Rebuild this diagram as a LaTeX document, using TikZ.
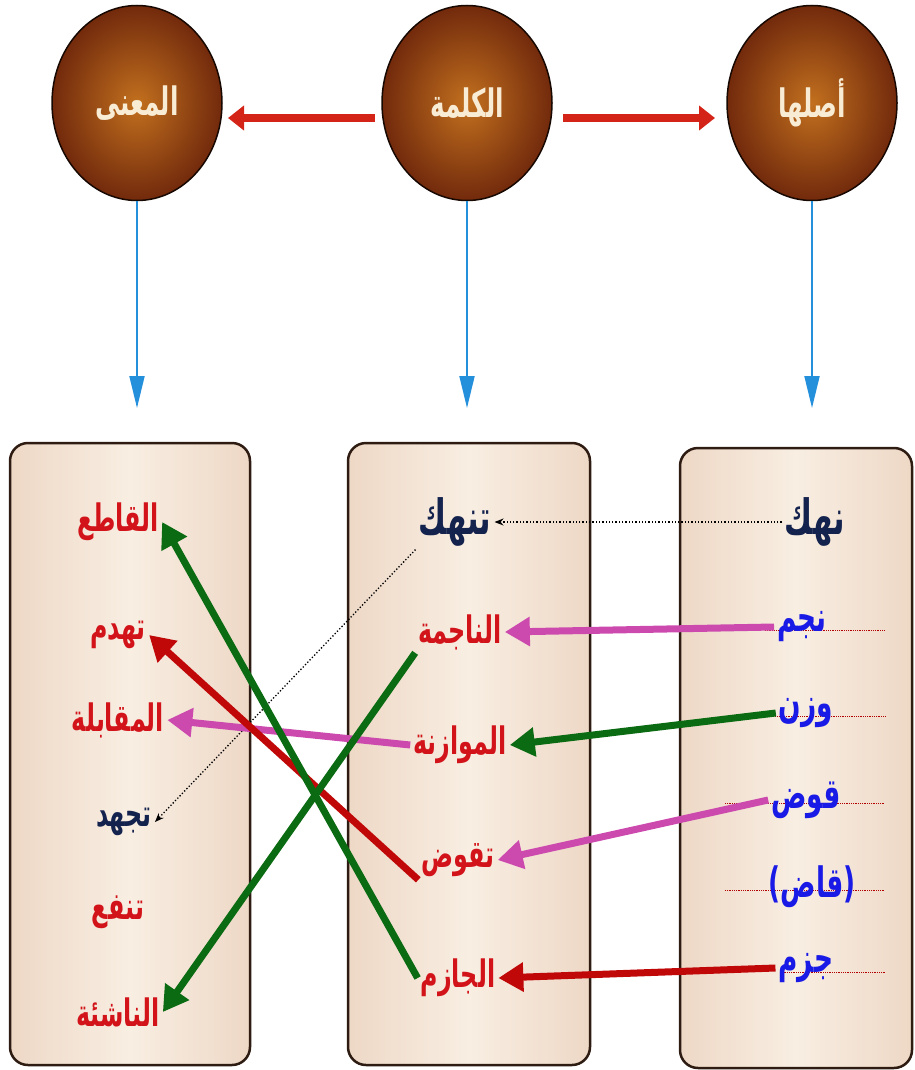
\documentclass[tikz,border=0pt]{standalone}
\usepackage{fontspec}
\usetikzlibrary{positioning}
\usetikzlibrary{arrows.meta}
\usetikzlibrary{shapes.geometric}
\TeXXeTstate=1
\newfontfamily\arabicfont[Script=Arabic]{DejaVu Sans}
\newcommand{\arw}[1]{\scalebox{0.85}[1.35]{\arabicfont\beginR #1\endR}}
\definecolor{ballin}{HTML}{C2701E}
\definecolor{ballout}{HTML}{722A0C}
\definecolor{balltext}{HTML}{F8ECD4}
\definecolor{boxedge}{HTML}{2E1C12}
\definecolor{boxside}{HTML}{EED8C6}
\definecolor{boxmid}{HTML}{F8EEE2}
\definecolor{wred}{HTML}{D2141A}
\definecolor{wnavy}{HTML}{14224E}
\definecolor{wblue}{HTML}{1A1AE6}
\definecolor{mpink}{HTML}{CC4AAE}
\definecolor{mgreen}{HTML}{0A6B12}
\definecolor{mred}{HTML}{C00808}
\definecolor{topred}{HTML}{D42418}
\definecolor{skyblue}{HTML}{2490DC}
\tikzset{ball/.style = {ellipse, draw=black!80!ballout, line width=1.5pt,
                        inner color=ballin, outer color=ballout,
                        minimum width=170pt, minimum height=195pt,
                        text=balltext, font=\fontsize{29}{32}\selectfont\bfseries}}
\tikzset{wbox/.style = {draw=boxedge, line width=2.5pt, rounded corners=18pt,
                        left color=boxside, right color=boxside, middle color=boxmid}}
\tikzset{word/.style = {inner sep=3pt, font=\fontsize{28}{32}\selectfont\bfseries}}
\tikzset{rword/.style = {word, text=wred}}
\tikzset{nword/.style = {word, text=wnavy}}
\tikzset{bword/.style = {word, text=wblue, font=\fontsize{31}{34}\selectfont\bfseries}}
\tikzset{bigword/.style = {font=\fontsize{36}{40}\selectfont\bfseries}}
\tikzset{toparr/.style = {draw=topred, line width=8pt,
                          -{Triangle[length=16pt,width=24pt]}}}
\tikzset{downarr/.style = {draw=skyblue, line width=2pt,
                           -{Triangle[length=32pt,width=15pt]}}}
\tikzset{link/.style = {line width=7pt, -{Triangle[length=25pt,width=28pt]}}}
\tikzset{dotlink/.style = {dotted, line width=1.3pt,
                           -{Stealth[length=9pt,width=7pt]}}}
\tikzset{guide/.style = {draw=red!70!black, densely dotted, line width=0.8pt}}

\begin{document}
\begin{tikzpicture}[x=1pt, y=-1pt]
  \useasboundingbox (0,0) rectangle (914,1070);
  % top row
  \node[ball] (mana) at (137,103) {\arw{المعنى}};
  \node[ball] (kalima) at (467,103) {\arw{الكلمة}};
  \node[ball] (asl) at (812,103) {\arw{أصلها}};
  \draw[toparr] (375,118) -- (228,118);
  \draw[toparr] (563,118) -- (715,118);
  \coordinate (manaEnd) at (137,408);
  \coordinate (kalimaEnd) at (467,408);
  \coordinate (aslEnd) at (812,408);
  \draw[downarr] (mana.south) -- (manaEnd);
  \draw[downarr] (kalima.south) -- (kalimaEnd);
  \draw[downarr] (asl.south) -- (aslEnd);
  % boxes
  \draw[wbox] (10,443) rectangle (250,1065);
  \draw[wbox] (348,443) rectangle (590,1065);
  \draw[wbox] (680,448) rectangle (912,1068);
  % guide lines in the right box
  \draw[guide] (765,630) -- (885,630);
  \draw[guide] (775,716) -- (885,716);
  \draw[guide] (725,803) -- (885,803);
  \draw[guide] (725,890) -- (885,890);
  \draw[guide] (780,972) -- (885,972);
  % left box
  \node[rword] (qati) at (118,522) {\arw{القاطع}};
  \node[rword] (tahdim) at (118,635) {\arw{تهدم}};
  \node[rword] (muqabala) at (118,720) {\arw{المقابلة}};
  \node[nword] (tujhid) at (124,822) {\arw{تجهد}};
  \node[rword] (tanfa) at (118,912) {\arw{تنفع}};
  \node[rword] (nashia) at (118,1012) {\arw{الناشئة}};
  % middle box
  \node[nword, bigword] (tunhik) at (455,522) {\arw{تنهك}};
  \node[rword] (najima) at (460,632) {\arw{الناجمة}};
  \node[rword] (muwazana) at (460,745) {\arw{الموازنة}};
  \node[rword] (taqawwud) at (458,860) {\arw{تقوض}};
  \node[rword] (jazim) at (458,978) {\arw{الجازم}};
  % right box
  \node[nword, bigword] (nahk) at (815,522) {\arw{نهك}};
  \node[bword] (najm) at (802,627) {\arw{نجم}};
  \node[bword] (wazn) at (806,713) {\arw{وزن}};
  \node[bword] (qawd) at (806,800) {\arw{قوض}};
  \node[bword] (qad) at (812,887) {\arw{(قاض)}};
  \node[bword] (jazm) at (806,968) {\arw{جزم}};
  % right to middle
  \draw[dotlink] (nahk.west) -- (tunhik.east);
  \draw[link, mpink] (najm.west) -- (najima.east);
  \draw[link, mgreen] (wazn.west) -- (muwazana.east);
  \draw[link, mpink] (qawd.west) -- (taqawwud.east);
  \draw[link, mred] (jazm.west) -- (jazim.east);
  % middle to left
  \draw[dotlink] (tunhik.south west) -- (tujhid.east);
  \draw[link, mpink] (muwazana.west) -- (muqabala.east);
  \draw[link, mred] (taqawwud.south west) -- (tahdim.east);
  \draw[link, mgreen] (jazim.west) -- (qati.east);
  \draw[link, mgreen] (najima.south west) -- (nashia.east);
\end{tikzpicture}
\end{document}
